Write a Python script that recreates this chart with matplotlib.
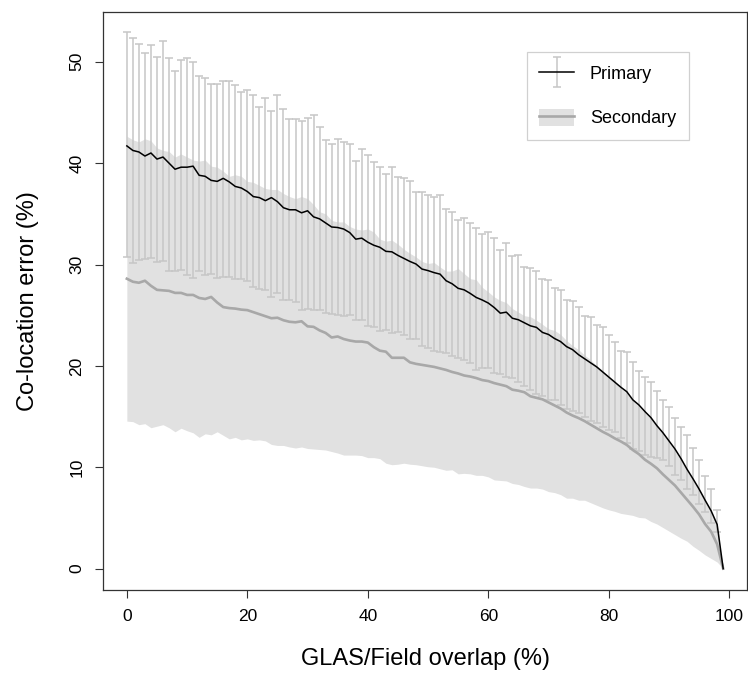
"""Co-location error vs GLAS/Field overlap, primary and secondary footprints."""
import numpy as np
import matplotlib
matplotlib.use("Agg")
import matplotlib.pyplot as plt
from matplotlib.patches import Patch
from matplotlib.lines import Line2D
from matplotlib.container import ErrorbarContainer
from matplotlib.legend_handler import HandlerErrorbar, HandlerTuple

plt.rcParams["font.family"] = ["Liberation Sans", "DejaVu Sans"]

# overlap (%), one value per integer step
overlap = list(range(100))

primary_mean = [
    41.7, 41.25, 41.1, 40.7, 41.0, 40.4, 40.6, 40.0, 39.4, 39.6,
    39.6, 39.7, 38.8, 38.7, 38.3, 38.2, 38.5, 38.15, 37.7, 37.55,
    37.2, 36.7, 36.6, 36.3, 36.6, 36.2, 35.6, 35.4, 35.4, 35.1,
    35.3, 34.7, 34.5, 34.1, 33.7, 33.65, 33.5, 33.15, 32.5, 32.6,
    32.2, 31.9, 31.7, 31.3, 31.25, 30.9, 30.6, 30.3, 30.05, 29.55,
    29.4, 29.2, 29.05, 28.4, 28.1, 27.65, 27.5, 27.15, 26.75, 26.5,
    26.2, 25.75, 25.2, 25.3, 24.7, 24.55, 24.25, 23.95, 23.8, 23.3,
    23.1, 22.7, 22.4, 21.9, 21.6, 21.1, 20.7, 20.3, 19.9, 19.4,
    18.9, 18.4, 17.9, 17.45, 16.65, 16.15, 15.5, 14.9, 14.1, 13.4,
    12.6, 11.8, 10.85, 9.8, 8.85, 7.85, 6.75, 5.7, 4.35, 0.0,
]
primary_upper = [
    52.9, 52.3, 51.8, 50.9, 51.7, 50.5, 52.0, 50.4, 49.1, 50.2,
    50.4, 49.95, 48.6, 48.4, 47.8, 47.8, 48.1, 48.1, 47.7, 47.0,
    47.2, 46.7, 45.5, 46.4, 45.1, 46.7, 45.3, 44.4, 44.4, 44.2,
    44.5, 44.7, 43.6, 42.3, 41.85, 42.4, 42.1, 41.85, 40.2, 41.4,
    40.8, 40.1, 39.6, 38.9, 39.6, 38.6, 38.5, 38.2, 37.2, 37.2,
    36.9, 36.65, 36.9, 35.5, 35.15, 34.35, 34.6, 34.1, 33.65, 33.0,
    33.2, 32.6, 31.45, 32.1, 30.8, 30.9, 29.8, 29.7, 29.4, 28.55,
    28.45, 27.65, 27.5, 26.5, 26.4, 25.8, 24.95, 24.85, 24.05, 23.8,
    23.0, 22.4, 21.5, 21.4, 20.4, 19.5, 18.95, 18.4, 17.55, 16.65,
    15.9, 14.9, 14.0, 13.15, 11.9, 10.75, 9.1, 7.9, 5.8, 0.0,
]
primary_lower = [
    30.75, 30.1, 30.4, 30.5, 30.6, 30.2, 30.3, 29.35, 29.4, 29.5,
    29.0, 28.7, 29.35, 29.0, 29.05, 28.7, 28.8, 28.8, 28.6, 28.6,
    28.4, 27.8, 27.6, 27.5, 26.8, 27.2, 26.5, 26.45, 26.35, 25.55,
    25.65, 25.55, 25.5, 25.2, 25.1, 25.05, 24.95, 25.05, 24.5, 24.5,
    23.9, 23.8, 23.45, 23.5, 23.2, 23.3, 23.0, 22.7, 22.65, 21.95,
    21.8, 21.5, 21.4, 21.3, 20.95, 20.8, 20.55, 20.25, 19.55, 19.75,
    19.75, 19.3, 19.15, 18.95, 18.8, 18.45, 18.0, 17.65, 17.2, 17.0,
    16.65, 16.65, 16.1, 15.7, 15.55, 15.4, 15.0, 14.55, 14.4, 14.0,
    13.7, 13.5, 12.9, 12.4, 11.8, 11.6, 11.2, 11.0, 10.95, 10.75,
    10.1, 9.25, 8.75, 7.9, 7.3, 6.35, 5.55, 4.5, 3.6, 0.0,
]

secondary_mean = [
    28.6, 28.3, 28.2, 28.4, 27.9, 27.5, 27.45, 27.4, 27.2, 27.2,
    27.0, 27.0, 26.7, 26.6, 26.8, 26.25, 25.8, 25.7, 25.65, 25.55,
    25.5, 25.3, 25.1, 24.9, 24.7, 24.75, 24.5, 24.35, 24.3, 24.4,
    23.9, 23.85, 23.5, 23.25, 22.8, 22.9, 22.65, 22.5, 22.4, 22.4,
    22.3, 21.85, 21.5, 21.4, 20.8, 20.8, 20.8, 20.35, 20.2, 20.1,
    20.0, 19.9, 19.75, 19.6, 19.4, 19.25, 19.05, 18.95, 18.8, 18.6,
    18.5, 18.3, 18.15, 18.0, 17.65, 17.55, 17.4, 17.0, 16.85, 16.7,
    16.4, 16.1, 15.8, 15.4, 15.1, 14.85, 14.55, 14.2, 13.85, 13.5,
    13.2, 12.85, 12.55, 12.2, 11.7, 11.3, 10.75, 10.35, 9.9, 9.3,
    8.75, 8.2, 7.5, 6.8, 6.1, 5.35, 4.4, 3.65, 2.4, 0.0,
]
secondary_upper = [
    42.65, 42.3, 42.1, 42.4, 42.2, 41.5, 41.25, 41.15, 40.6, 40.9,
    40.6, 40.3, 40.2, 40.3, 39.7, 39.6, 39.2, 38.7, 38.85, 38.7,
    38.2, 38.1, 37.8, 37.5, 37.4, 37.4, 37.0, 36.7, 36.5, 36.7,
    36.5, 35.9, 35.2, 35.0, 34.35, 34.2, 34.2, 33.75, 33.5, 33.4,
    33.5, 33.2, 32.5, 32.3, 32.4, 32.0, 31.5, 31.1, 30.75, 30.3,
    30.1, 30.2, 29.75, 29.35, 29.35, 29.6, 29.1, 28.6, 28.5, 27.75,
    27.3, 26.8, 26.45, 26.25, 25.65, 25.3, 24.95, 24.85, 24.5, 24.1,
    23.65, 23.5, 23.1, 22.5, 22.0, 21.6, 21.05, 20.6, 20.0, 19.5,
    18.95, 18.4, 17.8, 17.3, 16.6, 16.0, 15.35, 14.75, 14.0, 13.25,
    12.45, 11.6, 10.65, 9.65, 8.7, 7.7, 6.6, 5.5, 4.2, 0.0,
]
secondary_lower = [
    14.55, 14.5, 14.2, 14.3, 13.9, 14.05, 14.2, 13.9, 13.5, 13.85,
    13.6, 13.4, 12.95, 13.3, 13.2, 13.5, 13.15, 12.8, 12.95, 12.7,
    12.8, 12.65, 12.7, 12.6, 12.25, 12.15, 12.15, 12.0, 11.9, 12.0,
    11.85, 11.8, 11.75, 11.7, 11.55, 11.4, 11.2, 11.2, 11.2, 11.15,
    10.95, 10.95, 10.85, 10.4, 10.25, 10.3, 10.4, 10.3, 10.25, 10.15,
    10.05, 10.0, 9.85, 9.7, 9.75, 9.35, 9.4, 9.35, 9.2, 9.2,
    9.05, 8.75, 8.7, 8.65, 8.4, 8.3, 8.1, 7.95, 7.95, 7.85,
    7.6, 7.5, 7.3, 6.95, 6.95, 6.75, 6.75, 6.5, 6.25, 6.0,
    5.8, 5.65, 5.45, 5.35, 5.25, 5.05, 5.0, 4.65, 4.4, 4.05,
    3.7, 3.35, 3.0, 2.7, 2.2, 1.8, 1.35, 1.0, 0.65, 0.0,
]

BAR_GREY = "#c6c6c6"
FILL_GREY = "#e1e1e1"
LINE_GREY = "#a8a8a8"

x = np.array(overlap)
pm = np.array(primary_mean)
hi = np.array(primary_upper)
lo = np.array(primary_lower)

fig = plt.figure(figsize=(7.48, 6.81), dpi=100)
ax = fig.add_axes([0.1377, 0.1336, 0.861, 0.8488])

ax.fill_between(x, secondary_lower, secondary_upper, color=FILL_GREY,
                linewidth=0, zorder=1)

# error bars only where the bar has some length (last point collapses to 0)
has_bar = hi > lo
err = ax.errorbar(x[has_bar], pm[has_bar],
                  yerr=[pm[has_bar] - lo[has_bar], hi[has_bar] - pm[has_bar]],
                  fmt="none", ecolor=BAR_GREY, elinewidth=1.1, capsize=3.2,
                  capthick=1.1, zorder=2)

ax.plot(x, secondary_mean, color=LINE_GREY, linewidth=1.9, zorder=3)
ax.plot(x, pm, color="black", linewidth=1.1, zorder=4)

ax.set_xlim(-3.96, 102.96)
ax.set_ylim(-2.11, 54.91)
ax.set_xticks([0, 20, 40, 60, 80, 100])
ax.set_yticks([0, 10, 20, 30, 40, 50])
ax.tick_params(direction="out", length=5.5, width=0.8, labelsize=12.5,
               color="#333333")
ax.tick_params(axis="x", pad=8)
ax.tick_params(axis="y", pad=8)
plt.setp(ax.get_yticklabels(), rotation=90, va="center")
for side in ax.spines.values():
    side.set_linewidth(0.9)
    side.set_color("#333333")

ax.set_xlabel("GLAS/Field overlap (%)", fontsize=17)
ax.set_ylabel("Co-location error (%)", fontsize=17)
ax.xaxis.set_label_coords(0.5, -0.1)
ax.yaxis.set_label_coords(-0.1, 0.5)

# legend: errorbar look for primary, shaded band + line for secondary
_, caps, bars = err.lines
prim_handle = ErrorbarContainer(
    (Line2D([], [], color="black", linewidth=1.1), caps, bars),
    has_yerr=True)
sec_handle = (Patch(facecolor=FILL_GREY, edgecolor="none"),
              Line2D([], [], color=LINE_GREY, linewidth=1.9))
leg = ax.legend([prim_handle, sec_handle], ["Primary", "Secondary"],
                loc="upper left", bbox_to_anchor=(0.658, 0.931),
                fontsize=13, frameon=True, fancybox=False, framealpha=1,
                edgecolor="#d0d0d0", borderpad=0.7, labelspacing=1.4,
                handlelength=1.9, handleheight=1.1, handletextpad=0.9,
                borderaxespad=0,
                handler_map={ErrorbarContainer: HandlerErrorbar(yerr_size=0.85),
                             tuple: HandlerTuple(ndivide=1)})
leg.get_frame().set_linewidth(0.9)

fig.savefig("out.png", dpi=100)
